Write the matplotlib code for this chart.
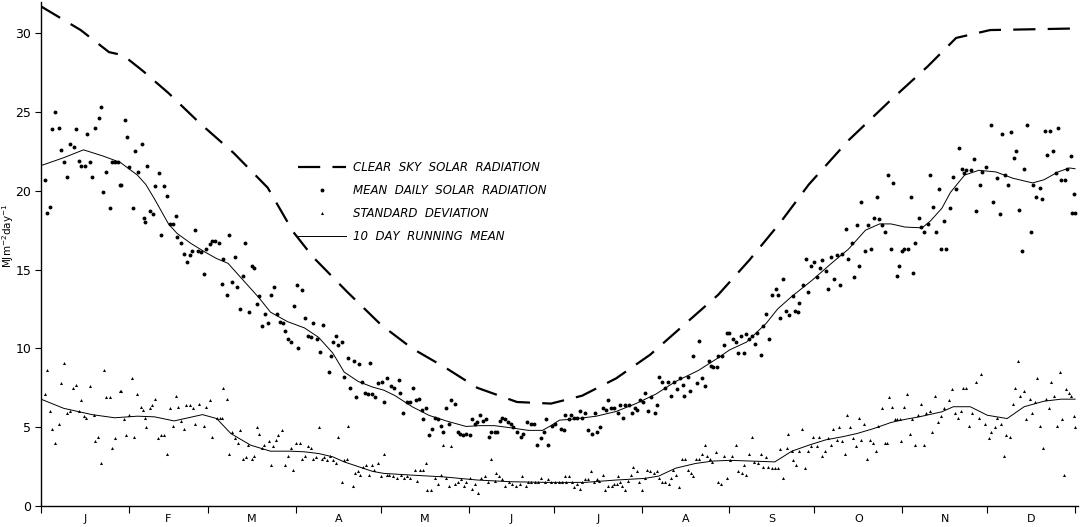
import matplotlib
matplotlib.use('Agg')

import numpy as np
import matplotlib.pyplot as plt

# month boundaries (day of year) and labels
month_edges = [0, 31, 59, 90, 120, 151, 181, 212, 243, 273, 304, 334, 365]
month_labels = ['J', 'F', 'M', 'A', 'M', 'J', 'J', 'A', 'S', 'O', 'N', 'D']

# clear sky solar radiation
clear_day = [0, 14, 24, 29, 36, 45, 56, 68, 80, 89, 96, 108, 120, 131, 143, 154, 168,
             180, 191, 203, 215, 227, 239, 250, 261, 271, 285, 299, 313, 323, 335, 365]
clear_val = [31.7, 30.2, 28.8, 28.6, 27.6, 26.2, 24.3, 22.4, 20.2, 17.4, 15.8, 13.6, 11.5,
             10.0, 8.75, 7.5, 6.6, 6.5, 7.0, 8.1, 9.6, 11.5, 13.4, 15.6, 18.0, 20.4, 23.2,
             25.6, 27.9, 29.7, 30.2, 30.3]

# mean daily solar radiation
mean_day = [1.3, 2.1, 3.0, 4.0, 4.8, 6.2, 6.9, 8.1, 9.2, 10.1, 11.5, 12.5, 13.3, 14.0, 15.4,
            16.4, 17.2, 18.0, 19.2, 20.4, 21.3, 22.0, 23.1, 24.2, 25.1, 26.0, 27.2, 27.8, 28.4,
            29.5, 30.5, 31.2, 32.3, 33.3, 34.2, 35.6, 36.4, 36.6, 37.3, 38.5, 39.5, 40.4, 41.5,
            42.5, 43.4, 44.5, 45.4, 46.6, 47.5, 48.1, 49.3, 50.5, 51.5, 52.5, 53.4, 54.5, 55.4,
            56.6, 57.4, 58.4, 59.5, 60.5, 61.5, 62.7, 63.8, 64.4, 65.5, 66.5, 67.3, 68.5, 69.3,
            70.2, 71.4, 72.0, 73.4, 74.4, 75.3, 76.1, 77.1, 78.1, 79.2, 80.2, 81.2, 82.2, 83.2,
            84.4, 85.3, 86.1, 87.1, 88.3, 89.2, 90.2, 90.8, 92.2, 93.2, 94.1, 95.3, 96.1, 97.3,
            98.5, 99.7, 101.5, 102.3, 103.2, 104.1, 105.0, 106.1, 107.1, 108.3, 109.1, 110.3,
            111.2, 112.1, 113.3, 114.2, 115.3, 116.0, 116.8, 118.0, 118.9, 120.3, 121.0, 122.1,
            123.4, 124.6, 126.2, 126.8, 127.8, 129.1, 130.1, 131.3, 132.2, 133.3, 134.5, 134.8,
            135.8, 136.8, 138.0, 139.2, 140.1, 141.1, 141.9, 142.8, 144.0, 144.8, 146.0, 147.2,
            148.0, 148.9, 150.1, 151.3, 152.1, 153.1, 153.9, 155.1, 156.0, 157.0, 158.0, 159.0,
            160.1, 161.1, 161.9, 162.7, 163.9, 164.8, 165.8, 166.6, 168.1, 169.3, 170.3, 171.7,
            172.8, 174.0, 175.2, 176.4, 177.5, 178.4, 179.0, 180.4, 181.5, 183.5, 184.6, 185.0,
            186.2, 187.1, 188.2, 189.1, 190.3, 191.1, 192.0, 193.2, 194.4, 195.6, 196.3, 197.3,
            198.3, 199.5, 200.3, 201.1, 202.3, 203.6, 204.4, 205.3, 206.2, 207.7, 208.5, 209.5,
            210.5, 211.5, 212.6, 213.2, 214.2, 215.3, 216.8, 217.3, 218.3, 219.3, 220.3, 221.2,
            222.3, 223.5, 224.4, 225.6, 226.5, 227.1, 228.5, 229.1, 230.3, 231.5, 232.4, 233.2,
            234.4, 235.6, 236.4, 237.3, 238.5, 239.1, 240.3, 241.1, 242.0, 243.0, 244.3, 245.3,
            246.1, 247.0, 248.1, 249.0, 249.9, 250.8, 252.0, 252.8, 254.1, 254.9, 255.8, 256.9,
            257.9, 259.3, 260.2, 260.8, 262.0, 262.9, 264.0, 265.3, 266.1, 267.1, 267.5, 269.0,
            270.0, 270.8, 271.8, 273.0, 273.8, 275.0, 275.8, 276.9, 277.9, 278.8, 280.0, 281.0,
            282.0, 282.6, 284.3, 284.9, 286.1, 286.9, 287.9, 288.7, 289.6, 290.8, 292.0, 292.8,
            293.9, 294.9, 295.8, 296.7, 297.9, 298.8, 299.9, 300.6, 302.0, 302.9, 303.8, 304.7,
            306.0, 306.9, 307.8, 308.6, 309.8, 310.5, 311.7, 313.1, 313.7, 314.9, 315.8, 316.9,
            317.8, 318.7, 319.6, 320.7, 321.9, 323.1, 324.0, 324.9, 325.8, 326.6, 328.4, 329.3,
            330.1, 331.3, 332.1, 333.7, 335.2, 336.0, 337.6, 338.4, 339.3, 340.1, 341.3, 342.3,
            343.4, 344.3, 345.2, 346.3, 347.0, 348.1, 349.6, 350.1, 351.3, 352.5, 353.4, 354.3,
            355.2, 356.0, 357.2, 358.1, 358.9, 359.9, 361.3, 362.3, 363.4, 363.9, 364.5, 365.0]
mean_val = [20.7, 18.6, 19.0, 23.9, 25.0, 24.0, 22.6, 21.8, 20.9, 23.0, 22.8, 23.9, 21.9, 21.6, 21.6,
            23.6, 21.8, 20.9, 24.0, 24.6, 25.3, 19.9, 21.2, 18.9, 21.8, 21.8, 21.8, 20.4, 20.4,
            24.5, 23.4, 21.5, 18.9, 22.5, 21.2, 23.0, 18.3, 18.0, 21.6, 18.7, 18.5, 20.3, 21.1,
            17.2, 20.3, 19.7, 17.9, 17.9, 18.4, 17.1, 16.7, 16.0, 15.5, 15.9, 16.2, 17.5, 16.2,
            16.1, 14.7, 16.3, 16.6, 16.8, 16.8, 16.7, 14.1, 15.7, 13.4, 17.2, 14.2, 15.8, 13.9,
            12.5, 14.6, 16.7, 12.3, 15.2, 15.1, 12.8, 13.3, 11.4, 12.2, 11.6, 13.4, 13.9, 12.2,
            11.7, 11.6, 11.1, 10.6, 10.4, 12.7, 14.0, 10.0, 13.7, 11.9, 10.8, 10.7, 11.6, 10.6,
            9.8, 11.5, 8.5, 9.5, 10.4, 10.8, 10.2, 10.4, 8.2, 9.4, 7.5, 9.2,
            6.9, 9.0, 7.9, 7.2, 7.1, 9.1, 7.1, 6.9, 7.8, 7.9, 6.6, 8.1,
            7.6, 7.5, 8.0, 7.2, 5.9, 6.6, 6.6, 7.5, 6.7, 6.8, 6.1, 5.5,
            6.2, 4.5, 4.9, 5.6, 5.5, 5.1, 4.7, 6.2, 5.2, 6.7, 6.5, 4.7,
            4.6, 4.5, 4.6, 4.5, 5.5, 5.2, 5.3, 5.8, 5.4, 5.5, 4.4, 4.7,
            4.7, 4.7, 5.4, 5.6, 5.5, 5.3, 5.2, 5.0, 4.7, 4.4, 4.6, 5.3,
            5.2, 5.2, 3.9, 4.3, 4.7, 5.5, 3.9, 5.1, 5.2, 4.9, 4.8, 5.8,
            5.5, 5.8, 5.6, 5.6, 6.0, 5.6, 5.9, 4.8, 4.6, 5.9, 4.7, 5.0,
            6.2, 6.1, 6.7, 6.2, 6.2, 5.9, 6.4, 5.6, 6.4, 6.4, 5.9, 6.2,
            6.1, 6.7, 6.6, 7.2, 6.0, 6.9, 5.9, 6.4, 8.2, 7.9, 7.5, 7.9,
            7.0, 7.9, 7.4, 8.1, 7.7, 7.0, 8.2, 7.3, 9.5, 7.8, 10.5, 8.1,
            7.6, 9.2, 8.9, 8.8, 8.8, 9.5, 9.5, 10.2, 11.0, 11.0, 10.6, 10.4,
            9.7, 10.8, 9.7, 10.9, 10.6, 10.8, 10.3, 11.0, 9.6, 11.4, 12.2, 10.6,
            13.4, 13.8, 13.4, 11.9, 14.4, 12.4, 12.1, 13.3, 12.4, 12.3, 12.9, 14.0,
            15.7, 13.6, 15.2, 15.5, 14.5, 15.1, 15.6, 14.9, 13.8, 15.8, 14.4, 15.9,
            14.0, 16.0, 17.6, 15.7, 16.7, 14.5, 17.8, 15.2, 19.3, 16.2, 17.8, 16.3,
            18.3, 19.6, 18.2, 17.8, 17.4, 21.0, 16.3, 20.5, 14.6, 15.2, 16.2, 16.3,
            16.3, 19.6, 14.8, 16.7, 18.3, 17.7, 17.4, 17.9, 21.0, 19.0, 17.4, 20.1,
            16.3, 18.1, 16.3, 18.9, 20.9, 20.1, 22.7, 21.4, 21.1, 21.3, 21.3, 22.0,
            18.7, 20.4, 21.2, 21.5, 24.2, 19.3, 20.8, 18.5, 23.6, 21.0, 20.4, 23.7,
            22.1, 22.5, 18.8, 16.2, 21.4, 24.2, 17.4, 20.4, 19.6, 20.2, 19.5, 23.8,
            22.3, 23.8, 22.5, 21.1, 24.0, 20.7, 20.7, 21.4, 22.2, 18.6, 19.8, 18.6]

# standard deviation
std_day = [1.3, 2.1, 3.3, 4.0, 5.0, 6.2, 7.2, 8.1, 9.1, 10.4, 11.3, 12.3, 13.3, 14.2, 15.0,
           16.0, 17.3, 18.6, 19.2, 20.1, 21.3, 22.2, 23.1, 24.3, 25.1, 26.2, 27.8, 28.4, 29.3,
           30.1, 31.0, 32.2, 32.8, 34.0, 35.2, 36.0, 36.6, 37.0, 38.4, 39.3, 40.4, 41.3, 42.3,
           43.4, 44.5, 45.5, 46.6, 47.5, 48.3, 49.5, 50.5, 51.3, 52.5, 53.6, 54.5, 55.6, 57.4,
           58.4, 59.5, 60.5, 62.0, 63.2, 63.8, 64.4, 65.5, 66.4, 67.3, 68.5, 69.4, 70.3, 71.4,
           72.3, 73.2, 74.4, 75.3, 76.1, 77.0, 77.9, 78.8, 80.3, 81.2, 82.0, 82.8, 83.8, 85.2,
           86.1, 87.1, 88.3, 89.1, 89.9, 91.4, 92.0, 93.2, 94.1, 95.3, 96.1, 97.1, 98.1, 99.1,
           100.0, 100.8, 102.0, 103.0, 104.0, 105.0, 106.1, 107.1, 107.9, 108.5, 110.0, 110.8,
           111.8, 112.6, 113.8, 114.7, 115.8, 116.7, 117.7, 119.1, 120.0, 121.2, 122.0, 123.0,
           124.2, 125.8, 127.0, 128.1, 129.3, 130.4, 131.9, 132.8, 133.7, 134.8, 136.0, 136.4,
           137.5, 139.0, 140.1, 141.3, 141.9, 143.1, 143.9, 144.8, 146.0, 147.2, 148.4, 149.3,
           150.1, 151.3, 152.1, 153.3, 154.2, 155.4, 156.8, 157.8, 158.7, 160.1, 160.7, 161.7,
           162.7, 163.9, 165.1, 166.2, 167.8, 169.0, 169.9, 171.1, 171.9, 173.1, 174.2, 175.4,
           176.6, 177.8, 179.0, 180.1, 181.5, 182.9, 183.8, 185.0, 185.3, 186.4, 187.3, 188.2,
           189.1, 190.3, 191.1, 192.0, 193.2, 194.2, 195.2, 196.2, 197.1, 198.3, 199.1, 200.3,
           201.5, 202.3, 203.2, 203.6, 204.4, 205.2, 206.2, 207.3, 208.2, 209.1, 210.3, 211.2,
           212.1, 213.2, 214.0, 215.0, 216.2, 217.3, 218.3, 219.1, 220.3, 221.5, 222.3, 223.2,
           224.2, 225.2, 226.2, 227.3, 228.5, 229.5, 230.1, 231.2, 232.4, 233.2, 234.2, 235.0,
           236.2, 237.0, 238.2, 238.9, 240.1, 241.1, 242.3, 243.2, 244.0, 245.2, 246.1, 247.3,
           248.2, 249.0, 249.9, 250.8, 251.8, 253.2, 254.3, 254.9, 255.9, 256.7, 257.9, 259.0,
           260.0, 260.8, 262.0, 263.2, 263.8, 264.9, 265.5, 266.5, 267.5, 268.7, 269.6, 270.6,
           271.8, 272.6, 273.8, 274.7, 275.5, 276.7, 277.9, 278.8, 279.6, 280.8, 281.6, 282.6,
           283.8, 284.6, 285.5, 286.5, 287.5, 288.7, 289.6, 290.6, 291.4, 292.6, 293.8, 294.7,
           295.5, 296.7, 297.9, 298.7, 299.4, 300.5, 301.4, 302.3, 303.2, 303.4, 304.7, 305.8,
           306.6, 307.4, 308.4, 309.6, 310.5, 311.6, 312.5, 313.9, 314.5, 315.7, 316.6, 317.6,
           318.6, 320.5, 321.7, 322.7, 323.7, 324.6, 325.6, 326.6, 327.6, 328.6, 330.1, 330.9,
           331.9, 333.3, 334.5, 335.4, 336.6, 337.6, 338.7, 339.9, 340.7, 342.1, 342.9, 343.9,
           344.9, 345.7, 346.9, 347.8, 349.0, 349.8, 350.7, 351.7, 352.7, 353.7, 354.6, 355.8,
           356.6, 357.6, 358.7, 359.8, 360.5, 361.1, 361.7, 362.7, 363.7, 364.5, 365.0]
std_val = [7.1, 8.6, 6.0, 4.9, 4.0, 5.2, 7.8, 9.1, 5.9, 6.0, 7.5, 7.7, 6.0, 6.7, 5.7,
           5.6, 7.6, 5.8, 4.1, 4.4, 2.7, 8.6, 6.9, 6.9, 3.7, 4.3, 7.3, 7.3, 5.5,
           4.5, 5.8, 8.1, 4.4, 7.1, 6.3, 6.1, 5.6, 5.0, 6.2, 6.4, 6.8, 4.3, 4.5,
           4.5, 3.3, 6.2, 5.1, 7.0, 6.3, 5.4, 4.9, 6.4, 6.4, 6.2, 5.2, 6.5, 5.1,
           6.3, 6.7, 4.4, 5.6, 5.6, 5.6, 7.5, 6.8, 3.3, 4.7, 4.3, 4.0, 4.8, 3.0,
           3.1, 3.9, 3.0, 3.2, 5.0, 4.6, 3.7, 3.9, 4.1, 2.6, 3.8, 4.2, 4.5, 4.8,
           2.6, 3.2, 3.7, 2.3, 4.0, 4.0, 3.0, 3.2, 3.8, 3.7, 3.0, 3.1, 5.0, 3.0,
           3.1, 2.9, 3.2, 2.9, 2.7, 4.4, 1.5, 2.9, 3.0, 5.1, 1.3, 2.1,
           2.2, 2.0, 2.5, 2.6, 2.0, 2.6, 2.3, 2.7, 1.9, 3.3, 2.0, 2.0,
           1.9, 1.8, 2.0, 1.8, 1.9, 1.8, 2.3, 1.6, 2.3, 2.3, 2.7, 1.0,
           1.0, 1.8, 1.4, 2.0, 3.9, 1.8, 1.3, 3.8, 1.4, 1.5, 1.7, 1.3,
           1.5, 1.8, 1.1, 1.4, 0.8, 1.8, 1.9, 1.5, 3.0, 1.6, 2.1, 1.9,
           1.7, 1.3, 1.5, 1.4, 1.3, 1.4, 1.9, 1.3, 1.5, 1.5, 1.5, 1.5,
           1.8, 1.5, 1.7, 1.5, 1.5, 1.5, 1.5, 1.9, 1.5, 1.9, 1.5, 1.2,
           1.4, 1.1, 1.5, 1.7, 1.7, 2.2, 1.5, 1.7, 1.6, 2.0, 1.0, 1.3,
           1.3, 1.4, 1.4, 1.9, 1.5, 1.3, 1.0, 1.6, 2.0, 2.5, 2.2, 1.5,
           1.0, 1.8, 2.3, 2.2, 2.1, 2.2, 1.8, 1.5, 1.5, 1.4, 1.8, 2.3,
           2.0, 1.2, 3.0, 3.0, 2.3, 2.1, 1.9, 3.0, 3.0, 3.3, 3.9, 3.2,
           3.0, 2.8, 3.4, 1.5, 1.4, 3.2, 1.8, 2.9, 3.2, 3.9, 2.2, 2.1,
           2.6, 2.0, 3.3, 4.4, 2.8, 2.7, 3.3, 2.5, 3.1, 2.5, 2.4, 2.4,
           2.4, 3.6, 1.8, 3.7, 4.6, 3.5, 2.9, 2.6, 3.5, 4.9, 2.4, 3.5,
           3.8, 4.4, 3.8, 4.4, 3.2, 3.5, 4.3, 3.9, 4.9, 4.2, 5.0, 4.1,
           3.3, 5.8, 5.0, 4.3, 3.8, 5.6, 4.2, 5.2, 3.0, 4.2, 4.0, 3.5,
           5.1, 6.2, 4.0, 4.0, 6.9, 6.3, 5.5, 5.5, 5.5, 4.1, 6.3, 7.1,
           4.6, 5.5, 3.9, 5.8, 6.5, 3.9, 5.9, 6.0, 4.7, 7.0, 5.3, 5.7,
           6.2, 6.7, 7.4, 5.9, 5.6, 6.0, 7.5, 7.5, 5.1, 5.9, 7.9, 5.6,
           8.4, 5.2, 4.3, 4.7, 5.0, 5.6, 5.2, 3.2, 4.5, 4.4, 6.5, 7.5,
           9.2, 7.0, 7.3, 5.5, 6.8, 5.9, 6.6, 8.1, 5.1, 3.7, 6.8, 6.2,
           7.9, 7.0, 5.1, 8.5, 5.5, 2.0, 7.4, 7.2, 7.0, 5.7, 5.0]

# 10 day running means
mean_rm_day = [0, 8, 15, 22, 28, 34, 37, 40, 45, 48, 53, 58, 62, 66, 72, 77, 81, 87, 93, 98,
               103, 107, 112, 117, 121, 125, 131, 137, 143, 150, 155, 160, 166, 172, 177, 180,
               183, 187, 196, 203, 210, 217, 224, 232, 239, 243, 249, 256, 260, 265, 272, 279,
               285, 291, 296, 300, 305, 311, 314, 318, 321, 326, 331, 337, 343, 350, 354, 359,
               363, 365]
mean_rm_val = [21.6, 22.1, 22.6, 22.2, 21.8, 21.0, 20.4, 19.5, 17.9, 17.3, 16.65, 16.1, 15.7,
               15.4, 14.2, 13.2, 12.3, 11.7, 11.3, 10.7, 9.7, 8.5, 7.9, 7.55, 7.35, 7.0, 6.3,
               5.75, 5.4, 5.05, 5.1, 5.1, 4.96, 4.8, 4.8, 5.1, 5.45, 5.5, 5.7, 6.0, 6.5, 7.1,
               7.9, 8.6, 9.4, 9.9, 10.4, 11.6, 12.5, 13.3, 14.3, 15.4, 16.3, 17.5, 17.9, 17.9,
               17.7, 17.65, 18.1, 18.9, 19.9, 21.0, 21.3, 21.2, 20.8, 20.5, 20.7, 21.2, 21.45,
               21.4]
std_rm_day = [0, 8, 18, 26, 34, 40, 47, 52, 57, 62, 67, 74, 81, 88, 93, 98, 103, 107, 112,
              117, 121, 131, 142, 154, 166, 178, 192, 203, 213, 218, 224, 231, 237, 243, 251,
              259, 265, 271, 277, 283, 288, 294, 300, 305, 310, 318, 322, 328, 334, 341, 347,
              354, 360, 365]
std_rm_val = [6.78, 6.2, 5.8, 5.6, 5.7, 5.66, 5.4, 5.6, 5.8, 5.55, 4.6, 3.86, 3.48, 3.48,
              3.44, 3.33, 3.12, 2.8, 2.5, 2.2, 2.07, 1.96, 1.85, 1.65, 1.54, 1.5, 1.5, 1.65,
              1.75, 1.9, 2.4, 2.7, 2.85, 2.9, 2.85, 2.8, 3.48, 3.86, 4.2, 4.4, 4.6, 4.92, 5.3,
              5.5, 5.66, 5.98, 6.3, 6.3, 5.76, 5.55, 6.3, 6.65, 6.78, 6.78]

fig = plt.figure(figsize=(10.85, 5.27), dpi=100)
ax = fig.add_axes([0.0378, 0.0398, 0.9557, 0.957])

ax.plot(clear_day, clear_val, color='black', lw=1.6, dashes=(10, 5.5),
        label='CLEAR  SKY  SOLAR  RADIATION')
ax.plot(mean_day, mean_val, 'o', color='black', ms=2.8, mew=0,
        label='MEAN  DAILY  SOLAR  RADIATION')
ax.plot(std_day, std_val, '^', color='black', ms=2.2, mew=0,
        label='STANDARD  DEVIATION')
ax.plot(mean_rm_day, mean_rm_val, color='black', lw=0.7, label='10  DAY  RUNNING  MEAN')
ax.plot(std_rm_day, std_rm_val, color='black', lw=0.7)

ax.set_xlim(0, 366)
ax.set_ylim(0, 32)

for s in ['top', 'right']:
    ax.spines[s].set_visible(False)
ax.spines['left'].set_linewidth(1.0)
ax.spines['bottom'].set_linewidth(1.0)

ax.set_yticks([0, 5, 10, 15, 20, 25, 30])
ax.tick_params(axis='y', direction='out', length=4, width=0.8, labelsize=9, pad=3)

ax.set_xticks(month_edges)
ax.set_xticklabels([])
ax.tick_params(axis='x', which='major', direction='out', length=5, width=0.8)
centers = [(month_edges[i] + month_edges[i + 1]) / 2.0 for i in range(12)]
ax.set_xticks(centers, minor=True)
ax.set_xticklabels(month_labels, minor=True)
ax.tick_params(axis='x', which='minor', length=0, labelsize=8, pad=6)

ax.set_ylabel(r'MJm$^{-2}$day$^{-1}$', fontsize=7.5)
ax.yaxis.set_label_coords(-0.0245, 0.535)

leg = ax.legend(loc='upper left', bbox_to_anchor=(0.238, 0.705), frameon=False,
                prop={'style': 'italic', 'size': 8.5}, handlelength=4.0,
                labelspacing=0.85, handletextpad=0.6, markerscale=1.0)

fig.savefig('out.png', dpi=100)
